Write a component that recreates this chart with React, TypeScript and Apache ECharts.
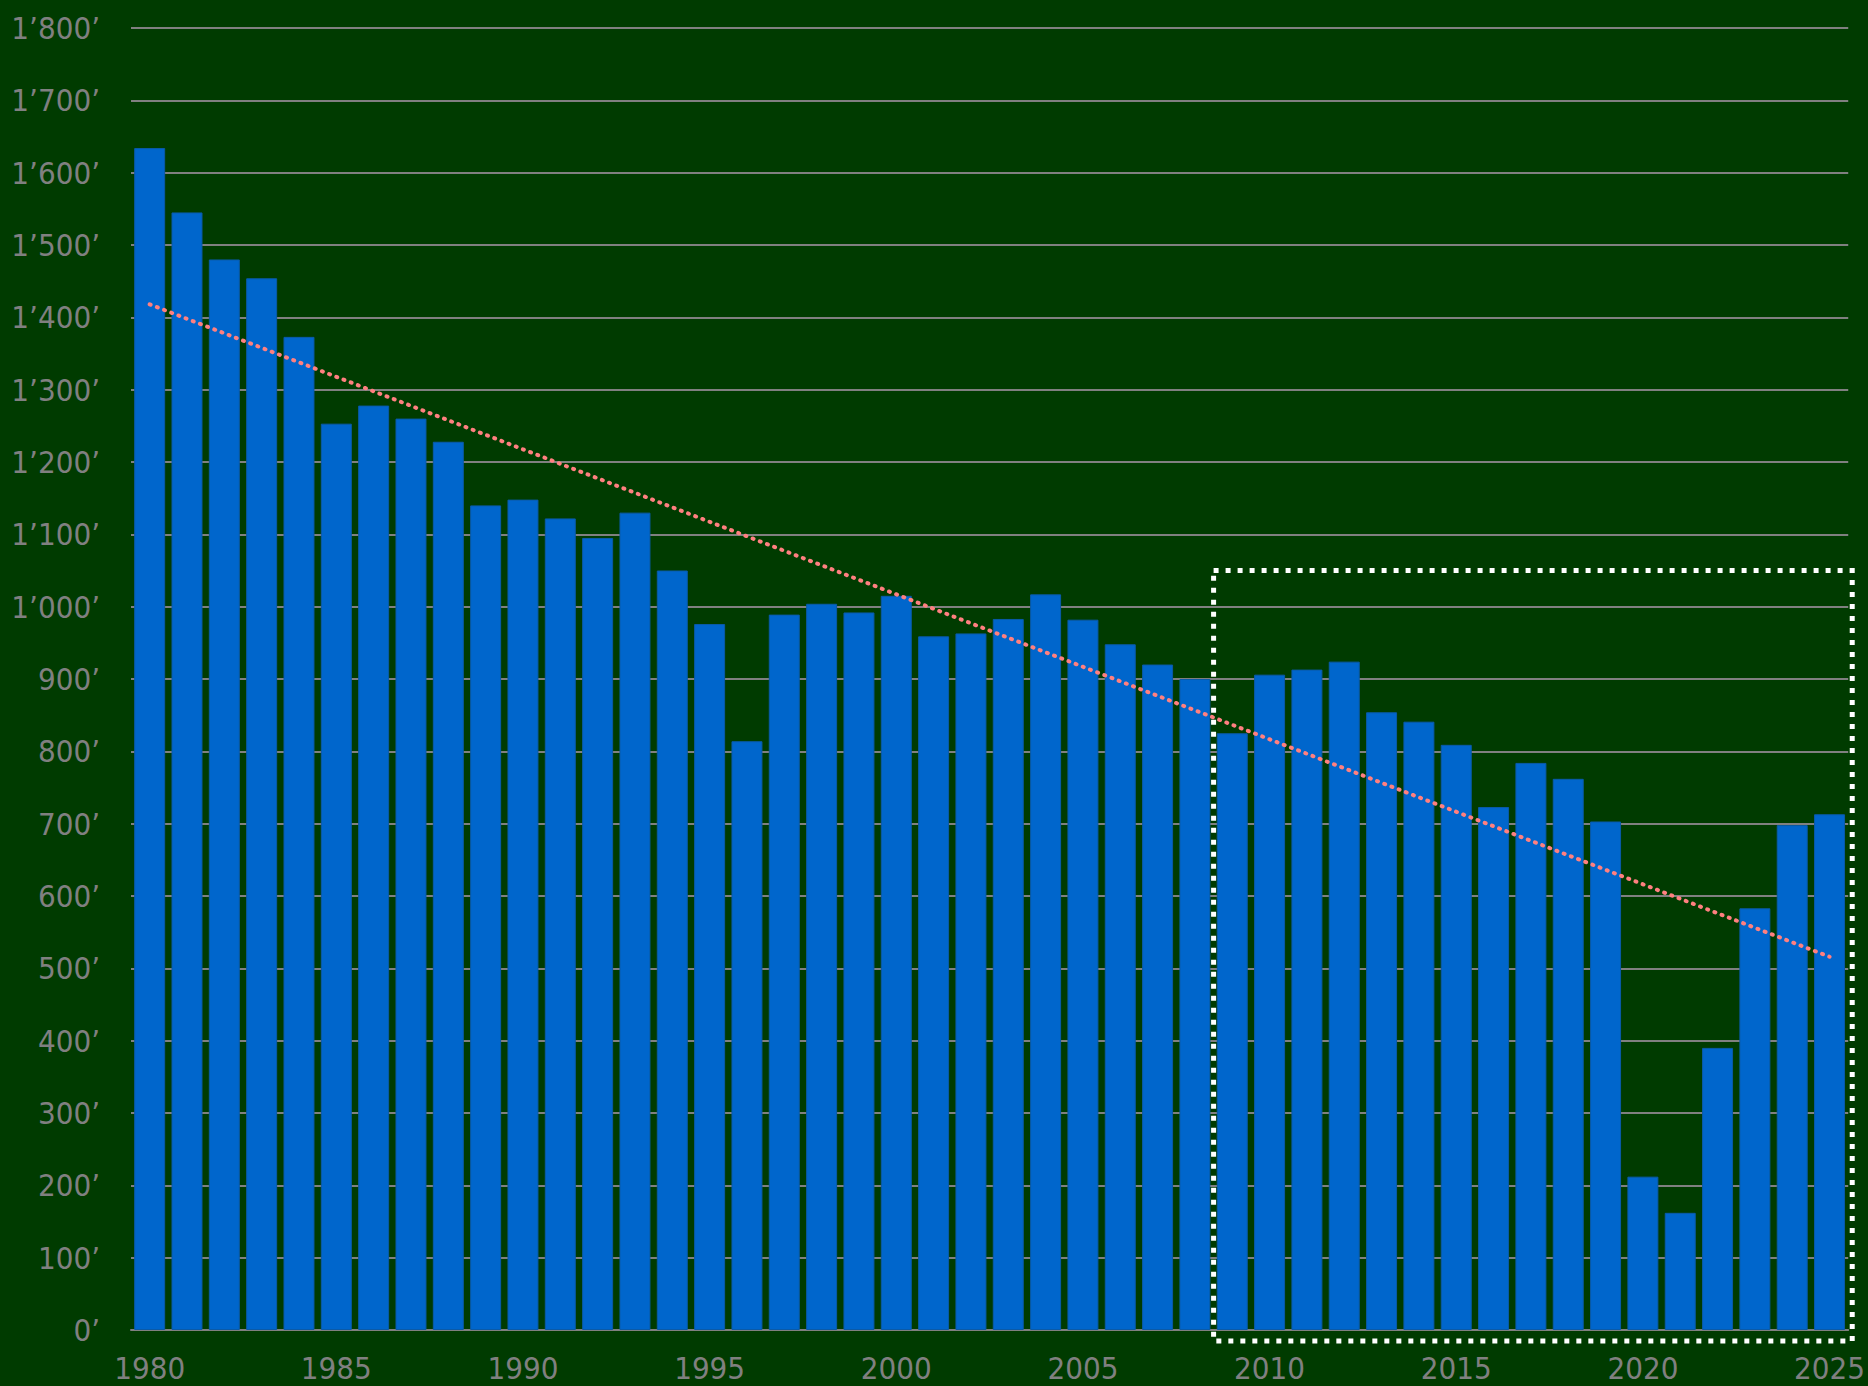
import React, { useEffect, useRef } from "react";
import * as echarts from "echarts";

const years: string[] = [
  "1980","1981","1982","1983","1984","1985","1986","1987","1988","1989",
  "1990","1991","1992","1993","1994","1995","1996","1997","1998","1999",
  "2000","2001","2002","2003","2004","2005","2006","2007","2008","2009",
  "2010","2011","2012","2013","2014","2015","2016","2017","2018","2019",
  "2020","2021","2022","2023","2024","2025",
];

const values: number[] = [
  1634, 1545, 1480, 1454, 1373, 1253, 1278, 1260, 1228, 1140,
  1148, 1122, 1095, 1130, 1050, 976, 814, 989, 1004, 992,
  1015, 959, 963, 983, 1017, 982, 948, 920, 900, 825,
  906, 913, 924, 854, 841, 809, 723, 784, 762, 703,
  212, 162, 390, 583, 698, 713,
];

// linear trend line endpoints
const trendPoints: [string, number][] = [
  ["1980", 1418],
  ["2025", 516],
];

// highlighted period (dotted box)
const boxFrom = "2009";
const boxTop = 1050;

const FONT = "'DejaVu Sans Condensed', 'DejaVu Sans', 'Noto Sans', sans-serif";

function fmt(v: number): string {
  const s = String(Math.round(v));
  const withSep = s.replace(/\B(?=(\d{3})+(?!\d))/g, "\u2019");
  return withSep + "\u2019";
}

export default function App() {
  const ref = useRef<HTMLDivElement>(null);

  useEffect(() => {
    document.body.style.margin = "0";
    if (!ref.current) return;
    const chart = echarts.init(ref.current, null, { renderer: "svg" });
    chart.setOption({
      animation: false,
      backgroundColor: "#003B00",
      grid: { left: 131, right: 17, top: 28, bottom: 56, containLabel: false },
      xAxis: {
        type: "category",
        data: years,
        axisLine: { show: true, lineStyle: { color: "#808080", width: 2 } },
        axisTick: { show: false },
        axisLabel: {
          interval: 4,
          color: "#808080",
          fontFamily: FONT,
          fontSize: 31,
          margin: 22,
        },
      },
      yAxis: {
        type: "value",
        min: 0,
        max: 1800,
        interval: 100,
        axisLine: { show: false },
        axisTick: { show: false },
        splitLine: { lineStyle: { color: "#808080", width: 2 } },
        axisLabel: {
          color: "#808080",
          fontFamily: FONT,
          fontSize: 31,
          margin: 31,
          formatter: (v: number) => fmt(v),
        },
      },
      series: [
        {
          type: "bar",
          data: values,
          barCategoryGap: "17%",
          itemStyle: { color: "#0066CC", borderColor: "#0A5AA8", borderWidth: 1 },
        },
        {
          type: "line",
          data: trendPoints,
          symbol: "none",
          lineStyle: { color: "#FF8080", width: 4, type: [1, 6.7], cap: "round" },
          z: 5,
        },
      ],
    });

    const x0 = chart.convertToPixel({ xAxisIndex: 0 }, boxFrom) as number;
    const x1 = chart.convertToPixel({ xAxisIndex: 0 }, years[years.indexOf(boxFrom) + 1]) as number;
    const band = x1 - x0;
    const left = x0 - band / 2;
    const xLast = chart.convertToPixel({ xAxisIndex: 0 }, years[years.length - 1]) as number;
    const right = xLast + band / 2 + 4;
    const top = chart.convertToPixel({ yAxisIndex: 0 }, boxTop) as number;
    const bottom = (chart.convertToPixel({ yAxisIndex: 0 }, 0) as number) + 11;

    chart.setOption({
      graphic: [
        {
          type: "rect",
          shape: { x: left, y: top, width: right - left, height: bottom - top },
          style: { fill: "none", stroke: "#FFFFFF", lineWidth: 5, lineDash: [5, 7] },
          z: 100,
        },
      ],
    });

    return () => chart.dispose();
  }, []);

  return <div ref={ref} style={{ width: 1868, height: 1386 }} />;
}
